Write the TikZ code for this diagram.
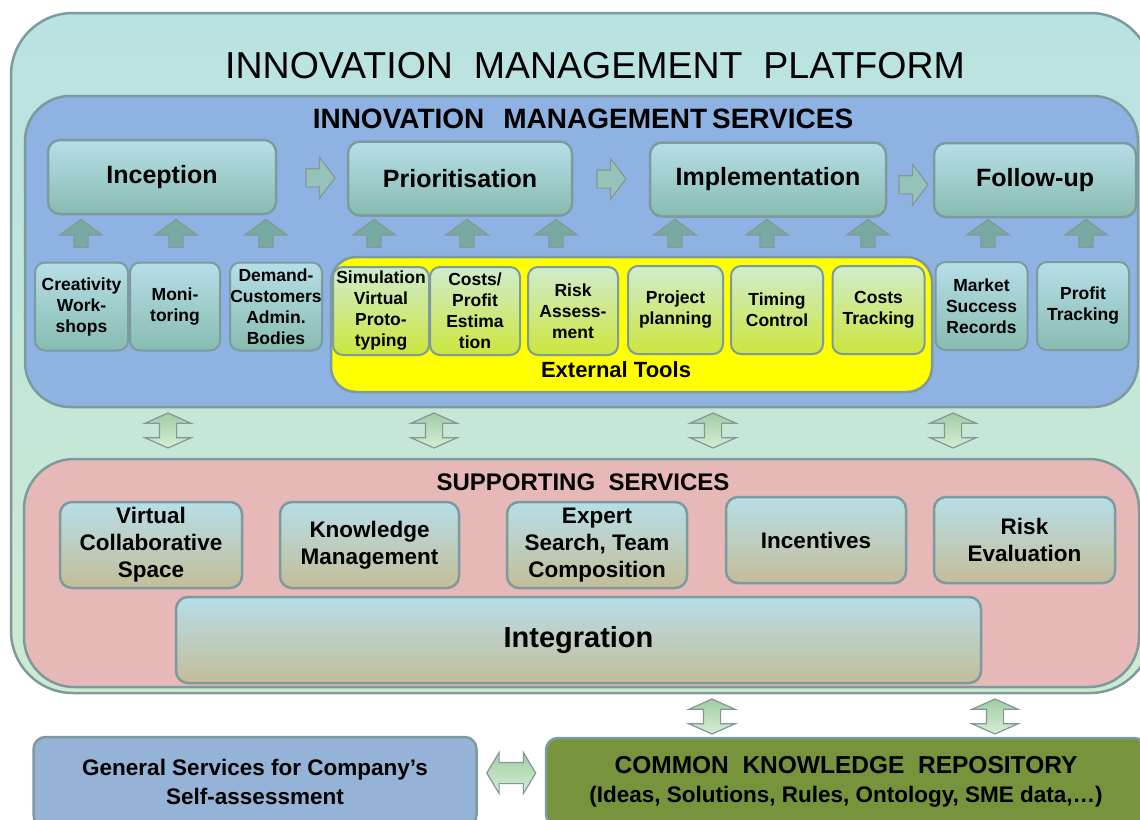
\documentclass[tikz,border=0pt]{standalone}
\usepackage{fontspec}
\setmainfont{Liberation Sans}
\usetikzlibrary{shapes.arrows,positioning}

\definecolor{platTop}{RGB}{185,226,226}
\definecolor{platBot}{RGB}{206,234,208}
\definecolor{frameGray}{RGB}{125,155,158}
\definecolor{servBlue}{RGB}{142,179,226}
\definecolor{boxTop}{RGB}{183,222,232}
\definecolor{boxTeal}{RGB}{135,188,176}
\definecolor{boxTan}{RGB}{196,189,151}
\definecolor{toolTop}{RGB}{208,236,205}
\definecolor{toolBot}{RGB}{204,230,60}
\definecolor{extYellow}{RGB}{255,255,0}
\definecolor{suppPink}{RGB}{230,184,183}
\definecolor{genBlue}{RGB}{149,179,215}
\definecolor{repoGreen}{RGB}{119,147,60}
\definecolor{arrTeal}{RGB}{118,170,162}
\definecolor{arrLight}{RGB}{150,195,185}
\definecolor{arrEdge}{RGB}{135,150,150}
\definecolor{dblTop}{RGB}{160,205,165}
\definecolor{dblBot}{RGB}{215,238,210}

\begin{document}
\begin{tikzpicture}[x=1pt, y=-1pt,
    frame/.style={draw=frameGray, line width=2.5},
    phase/.style={frame, rounded corners=12, top color=boxTop, bottom color=boxTeal, minimum height=74, inner sep=0, font=\fontsize{25}{30}\selectfont\bfseries},
    tool/.style={frame, line width=2, rounded corners=10, top color=boxTop, bottom color=boxTeal, minimum width=92, minimum height=88, inner sep=0, align=center, font=\fontsize{17.5}{21}\selectfont\bfseries},
    exttool/.style={tool, top color=toolTop, bottom color=toolBot},
    support/.style={frame, rounded corners=12, top color=boxTop, bottom color=boxTan, minimum width=180, minimum height=86, inner sep=0, align=center, font=\fontsize{22.5}{27}\selectfont\bfseries},
    header/.style={font=\fontsize{24}{28}\selectfont\bfseries},
    uparrow/.style={single arrow, shape border rotate=90, draw=arrEdge, fill=arrTeal, line width=1.2, inner sep=6.5, single arrow head extend=14, single arrow tip angle=107, minimum height=28, minimum width=41},
    rightarrow/.style={single arrow, draw=arrEdge, fill=arrLight, line width=1.2, inner sep=8.5, single arrow head extend=11.5, single arrow tip angle=106, minimum height=29, minimum width=40},
    vdouble/.style={double arrow, shape border rotate=90, draw=arrEdge, top color=dblTop, bottom color=dblBot, line width=1.2, inner sep=8, double arrow head extend=14.5, double arrow tip angle=132, minimum height=35, minimum width=45},
    hdouble/.style={double arrow, draw=arrEdge, top color=dblTop, bottom color=dblBot, line width=1.2, inner sep=10, double arrow head extend=10, double arrow tip angle=118, minimum height=49, minimum width=40}
]
    \useasboundingbox (0,0) rectangle (1140,819);

    % Platform frame
    \node[frame, rounded corners=62, top color=platTop, bottom color=platBot, minimum width=1141, minimum height=680] (platform) at (581.5,353) {};
    \node[font=\fontsize{37.5}{44}\selectfont] (title) at (595,66) {INNOVATION\ \ MANAGEMENT\ \ PLATFORM};

    % Innovation management services
    \node[frame, rounded corners=45, fill=servBlue, minimum width=1113, minimum height=311] (services) at (581.5,251.5) {};
    \node[header, font=\fontsize{28}{32}\selectfont\bfseries] (servtitle) at (583,119) {INNOVATION\hspace{19pt}MANAGEMENT\hspace{5pt}SERVICES};
    \node[frame, rounded corners=25, fill=extYellow, minimum width=601, minimum height=135] (external) at (631.5,324.5) {};
    \node[font=\fontsize{22}{26}\selectfont\bfseries] (exttitle) at (616,370) {External Tools};

    % Phases
    \node[phase, minimum width=228] (incep) at (162,177) {Inception};
    \node[phase, minimum width=224] (prior) at (460,178.5) {Prioritisation};
    \node[phase, minimum width=236] (impl) at (768,179.5) {Implementation};
    \node[phase, minimum width=202] (follow) at (1035,180) {Follow-up};

    \path (incep.east) -- (prior.west) node[midway, rightarrow, xshift=5] (flow1) {};
    \path (prior.east) -- (impl.west) node[midway, rightarrow, xshift=-3] (flow2) {};
    \path (impl.east) -- (follow.west) node[midway, rightarrow, yshift=-5] (flow3) {};

    % Tools
    \node[tool, minimum width=93] (creat) at (81.5,306.5) {Creativity\\Work-\\shops};
    \node[tool, minimum width=90] (moni) at (175,306.5) {Moni-\\toring};
    \node[tool] (demand) at (276,306.5) {Demand-\\Customers\\Admin.\\Bodies};
    \node[exttool, minimum width=96] (simul) at (381,311) {Simulation\\Virtual\\Proto-\\typing};
    \node[exttool, minimum width=90] (costs) at (475,311) {Costs/\\Profit\\Estima\\tion};
    \node[exttool, minimum width=90] (risk) at (573,311) {Risk\\Assess-\\ment};
    \node[exttool, minimum width=95] (project) at (675.5,310) {Project\\planning};
    \node[exttool] (timing) at (777,310) {Timing\\Control};
    \node[exttool] (ctrack) at (878.5,310) {Costs\\Tracking};
    \node[tool] (market) at (981.5,306) {Market\\Success\\Records};
    \node[tool] (profit) at (1083,306) {Profit\\Tracking};

    \foreach \x [count=\i] in {81,176,266,374,467,556,675,767,868,988,1086}
        \node[uparrow] (up\i) at (\x,236) {};

    % Links to supporting services
    \foreach \x [count=\i] in {168,434,713,953}
        \node[vdouble] (link\i) at (\x,430.5) {};

    % Supporting services
    \node[frame, rounded corners=50, fill=suppPink, minimum width=1115, minimum height=228] (supporting) at (581.5,573) {};
    \node[header] (supptitle) at (583,482.5) {SUPPORTING\ \ SERVICES};
    \node[support, minimum width=182] (virtual) at (151,545) {Virtual\\Collaborative\\Space};
    \node[support, minimum width=179] (knowledge) at (369.5,545) {Knowledge\\Management};
    \node[support] (expert) at (597,545) {Expert\\Search, Team\\Composition};
    \node[support] (incent) at (816,540) {Incentives};
    \node[support, minimum width=181] (riskeval) at (1024.5,540) {Risk\\Evaluation};
    \node[support, minimum width=805, font=\fontsize{29}{34}\selectfont\bfseries] (integ) at (578.5,640) {Integration};

    % Repository and self-assessment
    \foreach \x [count=\i] in {712,995}
        \node[vdouble] (repolink\i) at (\x,716.5) {};
    \node[frame, rounded corners=12, fill=genBlue, minimum width=443, minimum height=90, align=center, font=\fontsize{22.5}{29}\selectfont\bfseries] (general) at (255,782) {General Services for Company’s\\Self-assessment};
    \node[frame, rounded corners=12, fill=repoGreen, minimum width=600, minimum height=88, align=center, font=\fontsize{22.5}{29}\selectfont\bfseries] (repo) at (846,782) {\fontsize{24.5}{29}\selectfont COMMON\ \ KNOWLEDGE\ \ REPOSITORY\\(Ideas, Solutions, Rules, Ontology, SME data,…)};
    \path (general.east) -- (repo.west) node[midway, hdouble, yshift=9] (genlink) {};
\end{tikzpicture}
\end{document}
